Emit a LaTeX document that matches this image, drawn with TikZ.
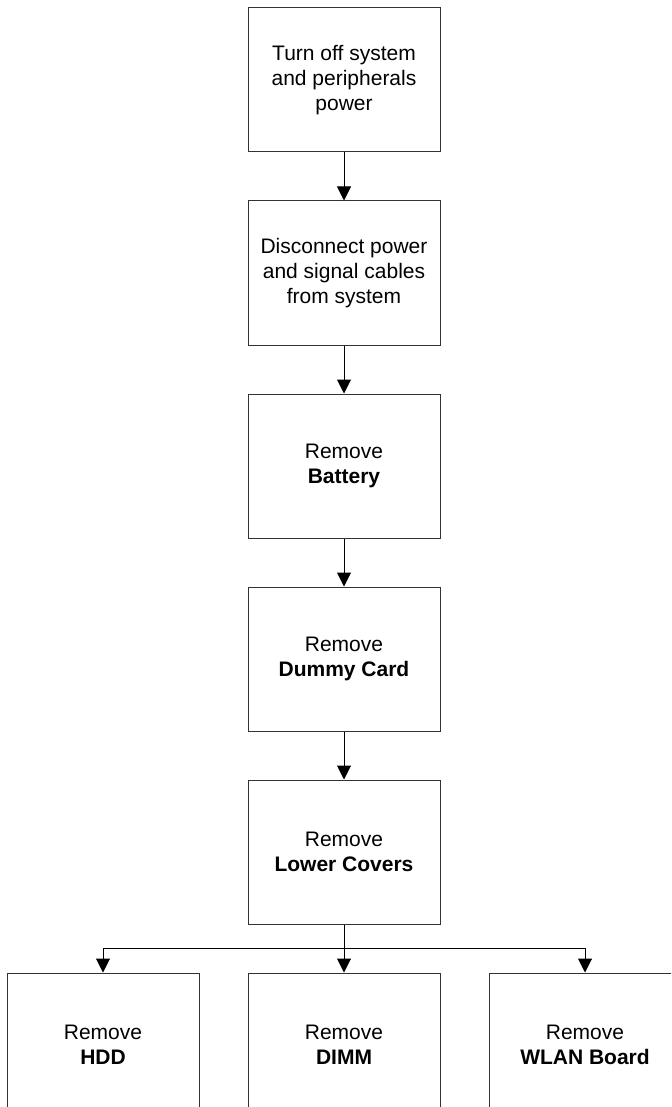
\documentclass[tikz,border=0pt]{standalone}
\usepackage{fontspec}
\setmainfont{Liberation Sans}
\usepackage{tikz}
\usetikzlibrary{arrows.meta, positioning}

\begin{document}
\begin{tikzpicture}[
    node distance=24pt,
    block/.style={rectangle, draw=black!80, line width=0.5pt, minimum width=96pt, minimum height=72pt, inner sep=2pt, align=center, font=\fontsize{10.5}{12.5}\selectfont},
    arrow/.style={-{Triangle[width=7pt, length=7pt]}, line width=0.5pt}
  ]
    \useasboundingbox (0,0) rectangle (335.5pt,-553.5pt);
    \clip (0,0) rectangle (335.5pt,-553.5pt);

    \node[block] (off) at (172pt,-40pt) {Turn off system\\and peripherals\\power};
    \node[block, below=of off] (cables) {Disconnect power\\and signal cables\\from system};
    \node[block, below=of cables] (battery) {Remove\\\textbf{Battery}};
    \node[block, below=of battery] (dummy) {Remove\\\textbf{Dummy Card}};
    \node[block, below=of dummy] (covers) {Remove\\\textbf{Lower Covers}};

    \node[block, below=of covers] (dimm) {Remove\\\textbf{DIMM}};
    \node[block, left=of dimm] (hdd) {Remove\\\textbf{HDD}};
    \node[block, right=of dimm] (wlan) {Remove\\\textbf{WLAN Board}};

    \coordinate[below=12pt of covers.south] (split);

    \draw[arrow] (off) -- (cables);
    \draw[arrow] (cables) -- (battery);
    \draw[arrow] (battery) -- (dummy);
    \draw[arrow] (dummy) -- (covers);

    \draw[arrow] (covers) -- (dimm);
    \draw[arrow] (split) -| (hdd.north);
    \draw[arrow] (split) -| (wlan.north);
  \end{tikzpicture}
\end{document}
